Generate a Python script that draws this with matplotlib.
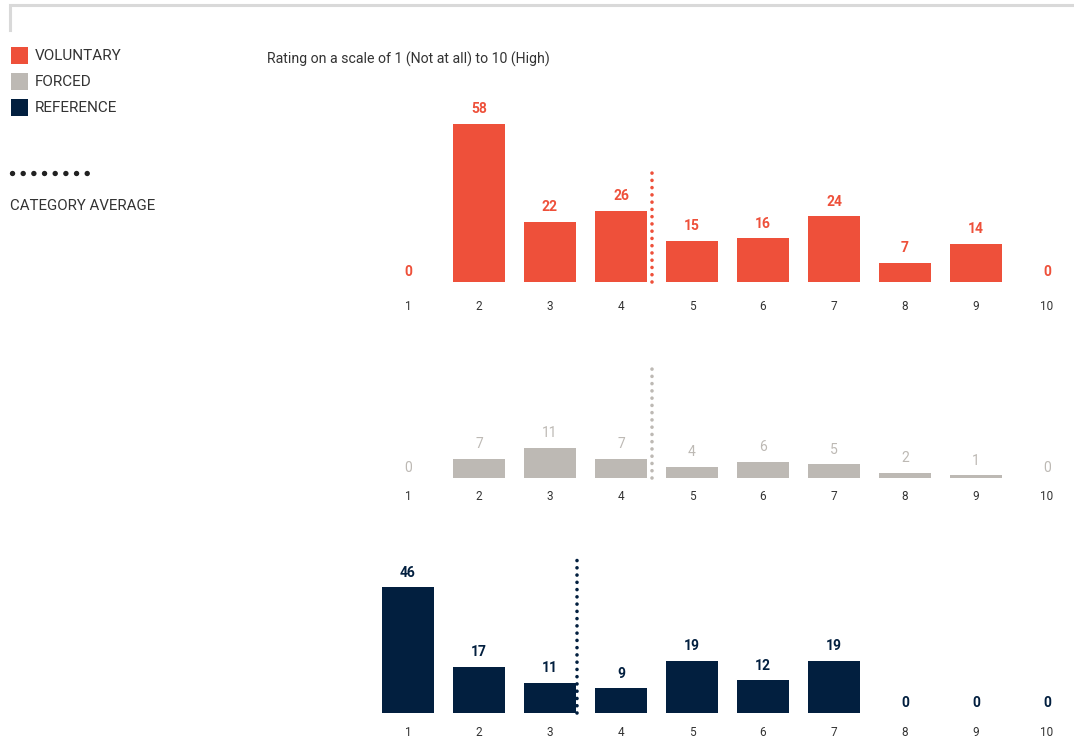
import matplotlib
matplotlib.use("Agg")
import matplotlib.pyplot as plt
from matplotlib.lines import Line2D
from matplotlib.patches import Rectangle

# ---- data -------------------------------------------------------------
ratings = [1, 2, 3, 4, 5, 6, 7, 8, 9, 10]
voluntary = [0, 58, 22, 26, 15, 16, 24, 7, 14, 0]
forced = [0, 7, 11, 7, 4, 6, 5, 2, 1, 0]
reference = [46, 17, 11, 9, 19, 12, 19, 0, 0, 0]
series_names = ["VOLUNTARY", "FORCED", "REFERENCE"]
title_text = "Rating on a scale of 1 (Not at all) to 10 (High)"
avg_label = "CATEGORY AVERAGE"

# ---- style ------------------------------------------------------------
ORANGE = "#EE503A"
GREY = "#BDB9B4"
NAVY = "#021F3F"
TEXT = "#333333"

plt.rcParams["font.family"] = ["Roboto", "DejaVu Sans"]

W, H = 1074, 741
fig = plt.figure(figsize=(W / 100, H / 100), dpi=100)


def fx(px):
    return px / W


def fy(py):
    return 1 - py / H


# horizontal layout: rating 1 centred at 408 px, 71 px per rating
X0_PX = 408 - 35.5
STEP = 71.0
PX_PER_UNIT = 2.73
xmax = 0.5 + (W - X0_PX) / STEP

panels = [
    # values, colour, baseline px, top px, avg line height, tick offset px, weight
    (voluntary, ORANGE, 282, 90, 42, 24, "bold"),
    (forced, GREY, 478, 345, 42, 19, "normal"),
    (reference, NAVY, 713, 545, 57, 20, "bold"),
]

for vals, col, base, top, avg_h, tick_off, weight in panels:
    ax = fig.add_axes([fx(X0_PX), fy(base), fx(W - X0_PX), (base - top) / H])
    ax.set_xlim(0.5, xmax)
    ax.set_ylim(0, (base - top) / PX_PER_UNIT)
    ax.axis("off")
    ax.bar(ratings, vals, width=0.73, color=col, linewidth=0)
    for r, v in zip(ratings, vals):
        lift = 5.5 if v > 0 else 2.5
        ax.annotate(str(v), xy=(r, v), xytext=(0, lift), textcoords="offset points",
                    ha="center", va="bottom", color=col, fontsize=10,
                    fontweight=weight, annotation_clip=False)
        ax.annotate(str(r), xy=(r, 0), xytext=(0, -tick_off * 0.72),
                    textcoords="offset points", ha="center", va="center",
                    color=TEXT, fontsize=8.5, annotation_clip=False)
    mean = sum(r * v for r, v in zip(ratings, vals)) / sum(vals)
    ax.plot([mean, mean], [0, avg_h], color=col, linewidth=2.6,
            linestyle=(0, (0.01, 2.0)), dash_capstyle="round",
            solid_capstyle="round", clip_on=False)

# title
fig.text(fx(267), fy(59), title_text, ha="left", va="center", color=TEXT,
         fontsize=10.2)

# top frame rule
fig.add_artist(Line2D([fx(10), fx(10), 1.0], [fy(30), fy(5), fy(5)],
                      color="#d9d9d9", linewidth=2.2, solid_joinstyle="miter"))

# legend
for name, col, cy in zip(series_names, [ORANGE, GREY, NAVY], [55, 81, 107]):
    fig.add_artist(Rectangle((fx(11), fy(cy + 8.5)), fx(17), 17 / H,
                             facecolor=col, edgecolor="none"))
    fig.text(fx(35), fy(cy + 1.5), name, ha="left", va="center", color=TEXT,
             fontsize=11)

fig.add_artist(Line2D([fx(12), fx(88)], [fy(173), fy(173)], color="#222222",
                      linewidth=3.9, linestyle=(0, (0.01, 1.96)),
                      dash_capstyle="round"))
fig.text(fx(10), fy(206), avg_label, ha="left", va="center", color=TEXT,
         fontsize=10.8)

fig.savefig("out.png", dpi=100, facecolor="white")
